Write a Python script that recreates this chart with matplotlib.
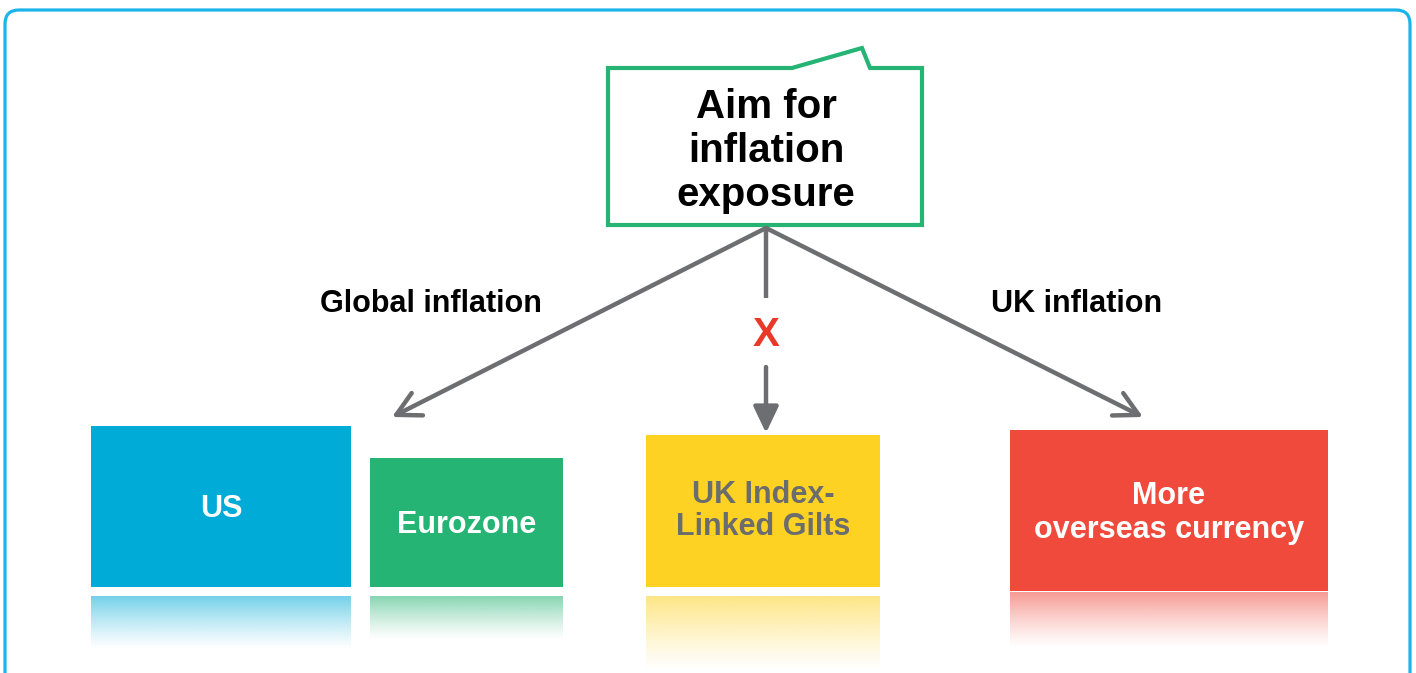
import numpy as np
import matplotlib
matplotlib.use("Agg")
import matplotlib.pyplot as plt
from matplotlib.patches import Rectangle, Polygon, FancyBboxPatch
from matplotlib.colors import to_rgb

plt.rcParams['font.family'] = ['Liberation Sans', 'DejaVu Sans']

# diagram content
title_text = "Aim for\ninflation\nexposure"
branch_labels = ["Global inflation", "UK inflation"]
blocked_mark = "X"
box_labels = ["US", "Eurozone", "UK Index-\nLinked Gilts", "More\noverseas currency"]
box_colors = ["#00acd7", "#25b473", "#fdd223", "#ef4a3c"]
box_text_colors = ["white", "white", "#6b6c6e", "white"]

# layout in pixels (x0, x1, y_top, y_bottom), reflection (top, bottom)
box_rects = [(91, 351, 426, 587), (370, 563, 458, 587), (646, 880, 435, 587), (1010, 1328, 430, 591)]
refl_rects = [(596, 650), (596, 640), (596, 672), (592, 648)]
label_y = [509, 525, 511, 513]
label_size = [22, 22, 22, 22]
label_spacing = [1.15, 1.15, 1.12, 1.2]

gray = "#6d6e71"
green = "#25b473"

fig = plt.figure(figsize=(14.16, 6.73), dpi=100)
ax = fig.add_axes([0, 0, 1, 1])
ax.set_xlim(0, 1416)
ax.set_ylim(673, 0)
ax.axis('off')

# outer frame
frame = FancyBboxPatch((5, 10), 1405, 720, boxstyle="round,pad=0,rounding_size=14",
                       fill=False, edgecolor="#1ab4ea", lw=2.3)
ax.add_patch(frame)

# top callout box
callout = Polygon([(608, 68), (792, 68), (862, 48), (870, 68), (922, 68), (922, 225), (608, 225)],
                  closed=True, facecolor="white", edgecolor=green, lw=3, joinstyle='miter', zorder=3)
ax.add_patch(callout)
ax.text(766, 151, title_text, ha='center', va='center', fontsize=29, fontweight='bold',
        linespacing=1.2, color="black", zorder=4)

# arrows
start = (766, 228)
open_head = dict(arrowstyle="->,head_length=0.85,head_width=0.45", color=gray, lw=3.2,
                 shrinkA=0, shrinkB=0, mutation_scale=20)
ax.annotate("", xy=(392, 417), xytext=start, arrowprops=open_head)
ax.annotate("", xy=(1143, 417), xytext=start, arrowprops=open_head)
ax.plot([766, 766], [228, 298], color=gray, lw=3.2, solid_capstyle='butt')
ax.annotate("", xy=(766, 433), xytext=(766, 367),
            arrowprops=dict(arrowstyle="-|>,head_length=0.8,head_width=0.38", color=gray, lw=3.2,
                            shrinkA=0, shrinkB=0, mutation_scale=20))
ax.text(766, 335, blocked_mark, ha='center', va='center', fontsize=29, fontweight='bold',
        color="#e8392b")

ax.text(431, 304, branch_labels[0], ha='center', va='center', fontsize=22, fontweight='bold')
ax.text(1077, 304, branch_labels[1], ha='center', va='center', fontsize=22, fontweight='bold')

# boxes with fading reflections
for (x0, x1, y0, y1), (r0, r1), lab, col, tcol, ly, fs, ls in zip(
        box_rects, refl_rects, box_labels, box_colors, box_text_colors, label_y, label_size,
        label_spacing):
    ax.add_patch(Rectangle((x0, y0), x1 - x0, y1 - y0, facecolor=col, edgecolor='none'))
    ax.text((x0 + x1) / 2, ly, lab, ha='center', va='center', fontsize=fs, fontweight='bold',
            color=tcol, linespacing=ls)
    rgb = to_rgb(col)
    n = 100
    grad = np.zeros((n, 2, 4))
    grad[..., :3] = rgb
    alpha = 0.55 * (1 - np.linspace(0, 1, n)) ** 1.2
    grad[..., 3] = alpha[:, None]
    ax.imshow(grad, extent=(x0, x1, r1, r0), aspect='auto', interpolation='bilinear', zorder=1)

ax.set_xlim(0, 1416)
ax.set_ylim(673, 0)
fig.savefig("out.png", dpi=100)
